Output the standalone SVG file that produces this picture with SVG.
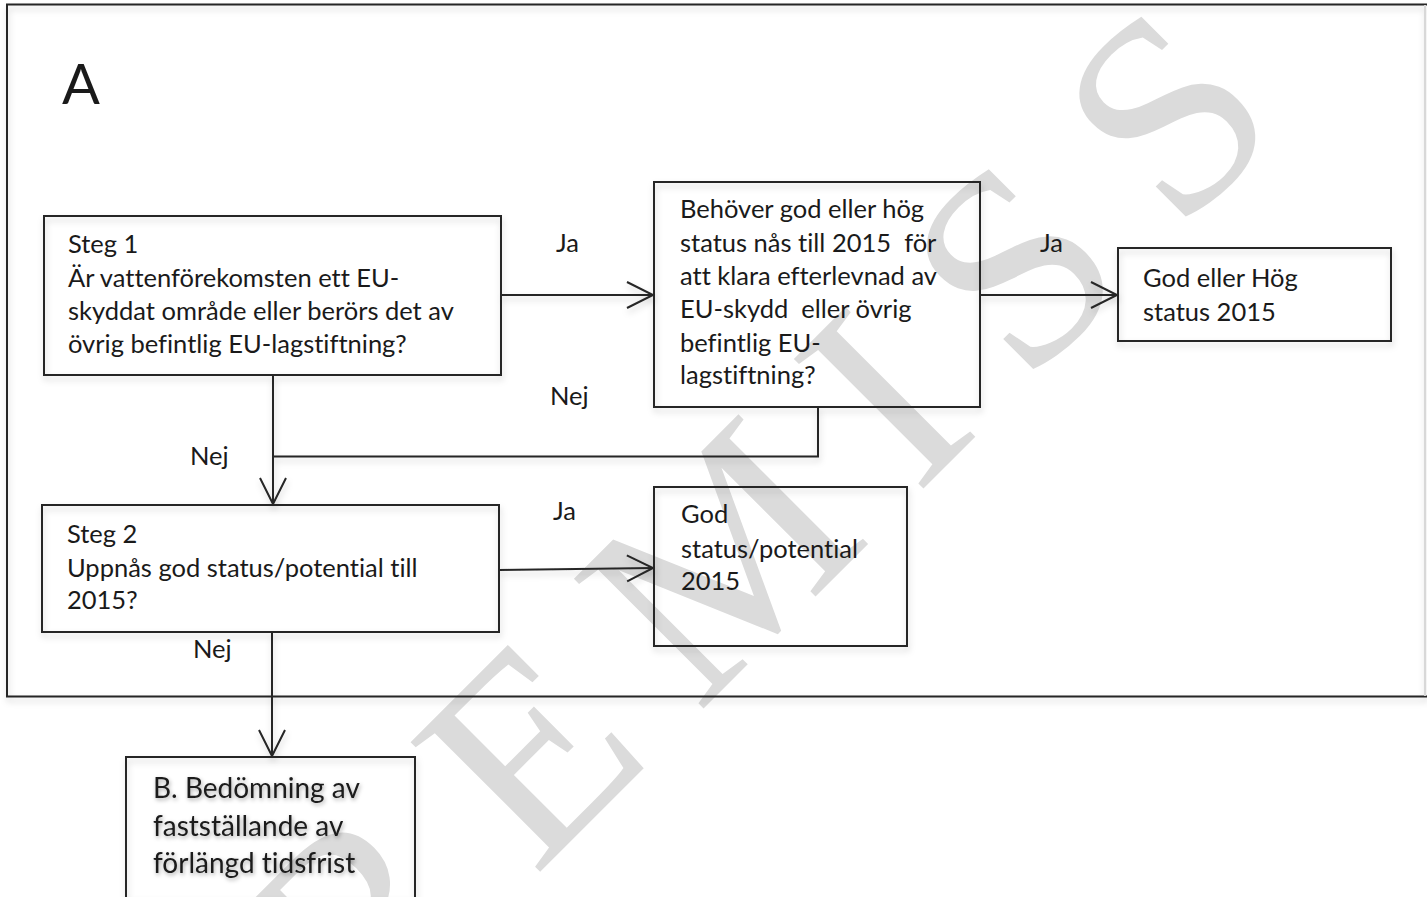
<svg xmlns="http://www.w3.org/2000/svg" width="1427" height="897" viewBox="0 0 1427 897">
<style>
.t{font-family:Lato,"Open Sans","Liberation Sans",sans-serif;font-size:25.5px;fill:#1a1a1a;font-variant-ligatures:none}
.b{font-family:Lato,"Open Sans","Liberation Sans",sans-serif;font-size:28px;fill:#1a1a1a;font-variant-ligatures:none}
.box{fill:none;stroke:#262626;stroke-width:2}
.ln{fill:none;stroke:#262626;stroke-width:2}
.wm{font-family:"Liberation Serif","Times New Roman",serif;font-size:280px;fill:#dbdbdb}
</style>
<defs>
<filter id="sh" x="-5%" y="-5%" width="110%" height="120%">
<feDropShadow dx="1" dy="4" stdDeviation="3" flood-color="#000" flood-opacity="0.18"/>
</filter>
<filter id="tsh" x="-5%" y="-20%" width="110%" height="140%">
<feDropShadow dx="1" dy="2" stdDeviation="2" flood-color="#000" flood-opacity="0.35"/>
</filter>
<marker id="arr" markerUnits="userSpaceOnUse" markerWidth="30" markerHeight="30" refX="0" refY="0" orient="auto" overflow="visible">
<path d="M-26,-13 L0,0 L-26,13" fill="none" stroke="#262626" stroke-width="2"/>
</marker>
</defs>
<rect x="0" y="0" width="1427" height="897" fill="#fff"/>
<g id="watermark">
<text class="wm" transform="translate(360,1052) rotate(-45)" letter-spacing="60">REMISS</text>
</g>
<g id="frame" filter="url(#sh)">
<path d="M1427,4.5 H7 V696.5 H1427" class="ln"/>
<line x1="1425" y1="5" x2="1425" y2="696" stroke="#d8d8d8" stroke-width="2"/>
</g>
<text class="t" x="62" y="104" style="font-size:56px">A</text>
<g id="connectors" filter="url(#sh)">
<path class="ln" d="M501,295 H653" marker-end="url(#arr)"/>
<path class="ln" d="M980,295 H1117" marker-end="url(#arr)"/>
<path class="ln" d="M273,375 V504" marker-end="url(#arr)"/>
<path class="ln" d="M818,407 V456.5 H273"/>
<path class="ln" d="M499,570 L653,568" marker-end="url(#arr)"/>
<path class="ln" d="M272,632 V756" marker-end="url(#arr)"/>
</g>
<g id="labels">
<text class="t" x="556" y="252">Ja</text>
<text class="t" x="550" y="405">Nej</text>
<text class="t" x="1040" y="252">Ja</text>
<text class="t" x="190" y="465">Nej</text>
<text class="t" x="553" y="520">Ja</text>
<text class="t" x="193" y="658">Nej</text>
</g>
<g id="steg1">
<rect class="box" x="44" y="216" width="457" height="159" filter="url(#sh)"/>
<text class="t" x="68" y="253">Steg 1</text>
<text class="t" x="68" y="287">Är vattenförekomsten ett EU-</text>
<text class="t" x="68" y="320">skyddat område eller berörs det av</text>
<text class="t" x="68" y="353">övrig befintlig EU-lagstiftning?</text>
</g>
<g id="behover">
<rect class="box" x="654" y="182" width="326" height="225" filter="url(#sh)"/>
<text class="t" x="680" y="218">Behöver god eller hög</text>
<text class="t" x="680" y="252" xml:space="preserve">status nås till 2015  för</text>
<text class="t" x="680" y="285">att klara efterlevnad av</text>
<text class="t" x="680" y="318" xml:space="preserve">EU-skydd  eller övrig</text>
<text class="t" x="680" y="352">befintlig EU-</text>
<text class="t" x="680" y="384">lagstiftning?</text>
</g>
<g id="godhog">
<rect class="box" x="1118" y="248" width="273" height="93" filter="url(#sh)"/>
<text class="t" x="1143" y="287">God eller Hög</text>
<text class="t" x="1143" y="321">status 2015</text>
</g>
<g id="steg2">
<rect class="box" x="42" y="505" width="457" height="127" filter="url(#sh)"/>
<text class="t" x="67" y="543">Steg 2</text>
<text class="t" x="67" y="577">Uppnås god status/potential till</text>
<text class="t" x="67" y="609">2015?</text>
</g>
<g id="godstatus">
<rect class="box" x="654" y="487" width="253" height="159" filter="url(#sh)"/>
<text class="t" x="681" y="523">God</text>
<text class="t" x="681" y="558">status/potential</text>
<text class="t" x="681" y="590">2015</text>
</g>
<g id="bedomning">
<rect class="box" x="126" y="757" width="289" height="142" filter="url(#sh)"/>
<g filter="url(#tsh)">
<text class="b" x="153" y="798">B. Bedömning av</text>
<text class="b" x="153" y="836">fastställande av</text>
<text class="b" x="153" y="873">förlängd tidsfrist</text>
</g>
</g>
</svg>
